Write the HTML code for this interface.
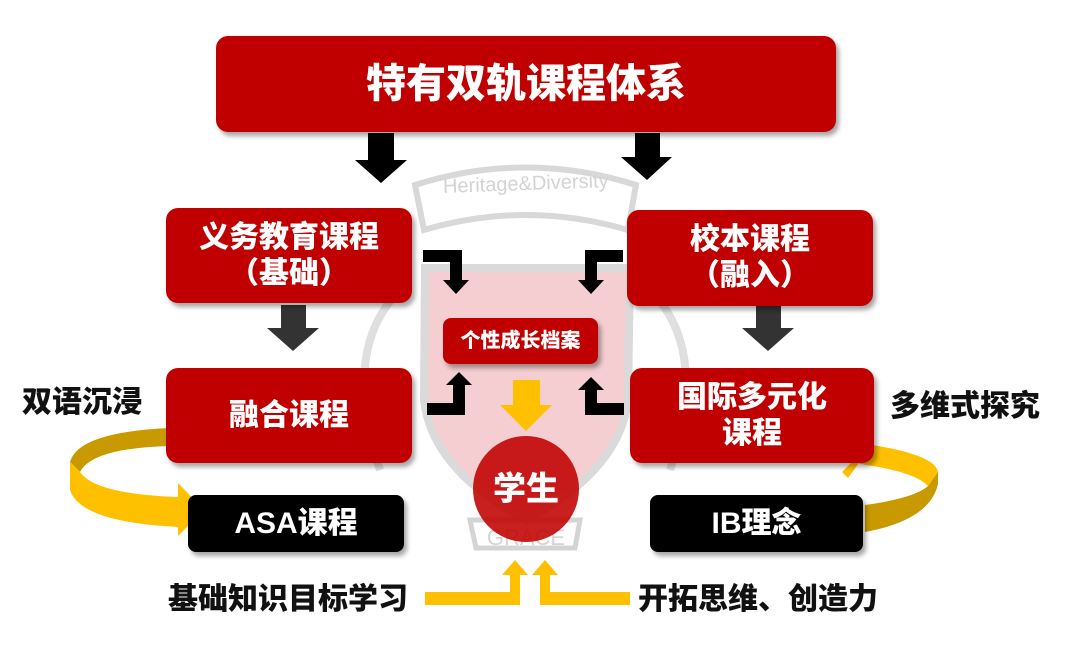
<!DOCTYPE html>
<html><head><meta charset="utf-8"><style>
body{margin:0;width:1080px;height:653px;background:#fff;position:relative;overflow:hidden;font-family:"Liberation Sans","Noto Sans CJK SC",sans-serif;font-weight:900}
.b{position:absolute;background:#c00000;color:#fff;border-radius:12px;display:flex;align-items:center;justify-content:center;text-align:center;box-shadow:3px 4px 5px rgba(0,0,0,.35);line-height:1.2}
.k{background:#000}
.t{position:absolute;color:#111;font-size:30px;white-space:nowrap;line-height:1}
</style></head><body>
<svg width="1080" height="653" style="position:absolute;left:0;top:0">
<g opacity="0.9">
<path d="M425 268 L630 268 L628 400 Q620 470 526 520 Q432 470 424 400 Z" fill="#f3c9cb" stroke="#d6d6d6" stroke-width="8"/>
<path d="M415 185 Q526 150 636 185 L628 230 Q526 200 424 230 Z" fill="none" stroke="#d4d4d4" stroke-width="6"/>
<text x="526" y="190" font-size="20" fill="#cfcfcf" text-anchor="middle" font-weight="normal" font-family="Liberation Sans" transform="rotate(-2 526 190)">Heritage&amp;Diversity</text>
<path d="M400 290 Q340 350 380 470 M650 290 Q710 350 670 470" fill="none" stroke="#dcdcdc" stroke-width="8"/>
<path d="M470 520 L580 520 L575 548 L476 548 Z" fill="none" stroke="#d0d0d0" stroke-width="5"/>
<text x="526" y="545" font-size="22" fill="#cfcfcf" text-anchor="middle" font-weight="normal">GRACE</text>
</g>
<polygon points="368,133 394,133 394,160 407,160 381,183 355,160 368,160" fill="#000"/>
<polygon points="635,133 660,133 660,157 672,157 647,180 621,157 635,157" fill="#000"/>
<polygon points="281,305 306,305 306,328 319,328 293,351 267,328 281,328" fill="#333"/>
<polygon points="756,305 781,305 781,328 794,328 768,351 742,328 756,328" fill="#333"/>
<polygon points="423,250 462,250 462,280 469,280 456,294 443,280 450,280 450,262 423,262" fill="#000"/>
<polygon points="623,250 585,250 585,280 578,280 591,294 604,280 597,280 597,262 623,262" fill="#000"/>
<polygon points="427,415 465,415 465,385 472,385 459,372 446,385 453,385 453,403 427,403" fill="#000"/>
<polygon points="624,415 585,415 585,390 578,390 591,377 604,390 597,390 597,403 624,403" fill="#000"/>
<polygon points="513,380 540,380 540,405 552,405 526,431 500,405 513,405" fill="#ffc000"/>
<polygon points="425,592 510,592 510,575 502,575 515,560 528,575 520,575 520,605 425,605" fill="#ffc000"/>
<polygon points="630,592 550,592 550,575 558,575 545,560 532,575 540,575 540,605 630,605" fill="#ffc000"/>
<path d="M170 428 Q78 432 70 462 L80 472 Q92 448 170 446 Z" fill="#c89a00"/>
<path d="M70 462 L70 490 Q80 522 178 527 L178 536 L204 510 L178 483 L178 497 Q95 494 80 472 Z" fill="#ffc000"/>
<path d="M872 445 Q935 455 938 472 L928 486 Q915 472 866 465 L852 462 L842 472 L848 478 Z" fill="#ffc000"/>
<path d="M938 472 L938 484 Q930 520 865 532 L865 505 Q915 498 928 486 Z" fill="#c89a00"/>
<circle cx="526" cy="489" r="53" fill="#c00000" fill-opacity="0.88"/>
</svg>
<div class="b" style="left:216px;top:36px;width:620px;height:96px;font-size:40px">特有双轨课程体系</div>
<div class="b" style="left:166px;top:208px;width:246px;height:95px;font-size:30px">义务教育课程<br>（基础）</div>
<div class="b" style="left:627px;top:210px;width:246px;height:96px;font-size:30px">校本课程<br>（融入）</div>
<div class="b" style="left:166px;top:368px;width:246px;height:95px;font-size:30px">融合课程</div>
<div class="b" style="left:630px;top:368px;width:244px;height:95px;font-size:30px">国际多元化<br>课程</div>
<div class="b" style="left:443px;top:318px;width:155px;height:46px;font-size:20px;border-radius:8px">个性成长档案</div>
<div class="b k" style="left:188px;top:495px;width:216px;height:57px;font-size:30px;border-radius:8px">ASA课程</div>
<div class="b k" style="left:650px;top:495px;width:213px;height:57px;font-size:30px;border-radius:8px">IB理念</div>
<div style="position:absolute;left:473px;top:471px;width:106px;text-align:center;color:#fff;font-size:33px;line-height:1.1">学生</div>
<div class="t" style="left:22px;top:388px">双语沉浸</div>
<div class="t" style="left:890px;top:392px">多维式探究</div>
<div class="t" style="left:168px;top:585px">基础知识目标学习</div>
<div class="t" style="left:638px;top:585px">开拓思维、创造力</div>
</body></html>
